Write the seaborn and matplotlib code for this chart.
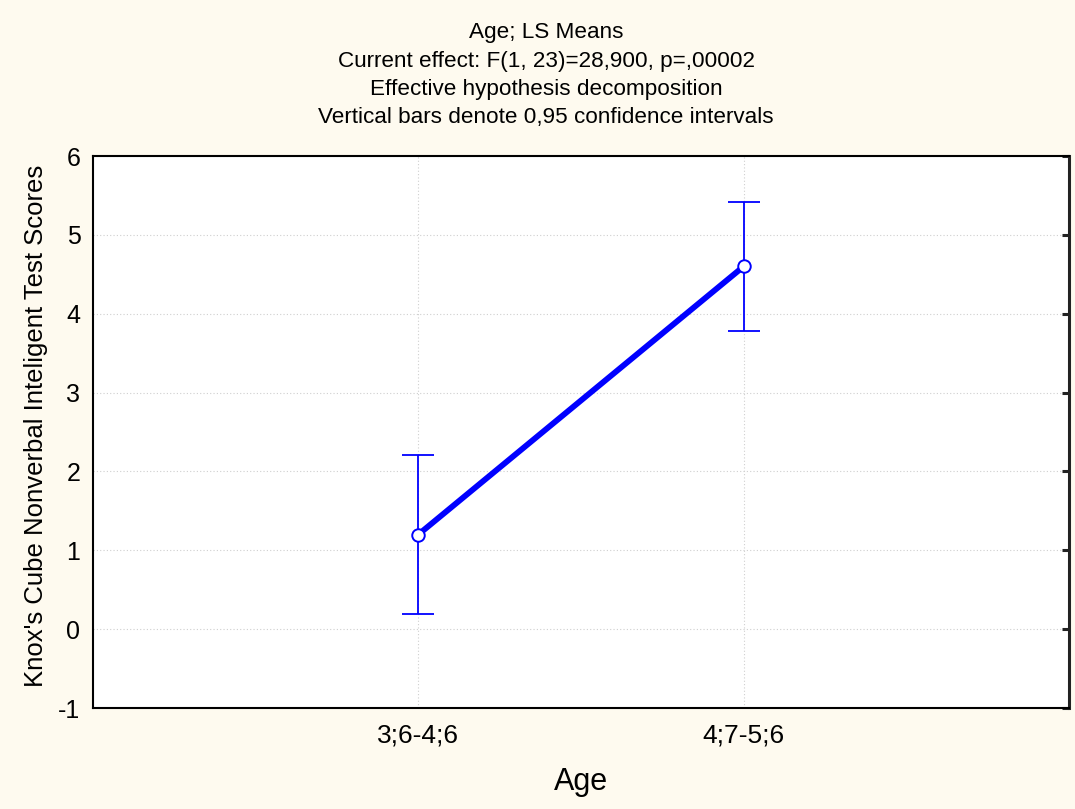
import matplotlib
matplotlib.use("Agg")
import matplotlib.pyplot as plt
import seaborn as sns
import pandas as pd

# LS means of the cube test score by age group, with 95% confidence limits
age_groups = ["3;6-4;6", "4;7-5;6"]
ls_means = [1.2, 4.6]
ci_lower = [0.19, 3.78]
ci_upper = [2.21, 5.42]
y_ticks = [-1, 0, 1, 2, 3, 4, 5, 6]

title_lines = [
    "Age; LS Means",
    "Current effect: F(1, 23)=28,900, p=,00002",
    "Effective hypothesis decomposition",
    "Vertical bars denote 0,95 confidence intervals",
]

sns.set_theme(style="white")
plt.rcParams["font.family"] = ["Liberation Sans", "DejaVu Sans"]

BG = "#FEFAEF"
BLUE = "#0000FF"

df = pd.DataFrame({"pos": range(len(age_groups)), "Age": age_groups, "mean": ls_means})

fig = plt.figure(figsize=(10.75, 8.09), dpi=100, facecolor=BG)
ax = fig.add_axes([93 / 1075, 1 - 708 / 809, 976 / 1075, 552 / 809])
ax.set_facecolor("white")

# confidence interval whiskers
yerr = [[m - lo for m, lo in zip(ls_means, ci_lower)],
        [hi - m for m, hi in zip(ls_means, ci_upper)]]
ax.errorbar(df["pos"], df["mean"], yerr=yerr, fmt="none", ecolor=BLUE,
            elinewidth=1.3, capsize=11.5, capthick=1.3, zorder=3)

# mean line with open markers
sns.lineplot(data=df, x="pos", y="mean", ax=ax, color=BLUE, linewidth=4.2,
             marker="o", markersize=9, markerfacecolor="white",
             markeredgecolor=BLUE, markeredgewidth=1.4, zorder=4)

ax.set_xlim(-1, 2)
ax.set_ylim(-1, 6)
ax.set_xticks(df["pos"])
ax.set_xticklabels(age_groups)
ax.set_yticks(y_ticks)
ax.set_yticklabels([str(t) for t in y_ticks])

ax.grid(True, linestyle=(0, (1, 2)), color="#cfcfcf", linewidth=0.8)
ax.set_axisbelow(True)

for side in ["left", "bottom", "top"]:
    ax.spines[side].set_color("black")
    ax.spines[side].set_linewidth(1.5)
ax.spines["right"].set_color("#222222")
ax.spines["right"].set_linewidth(2.2)

ax.tick_params(axis="x", direction="in", length=4, width=0.8, colors="black",
               labelsize=19, pad=11, labelcolor="black")
ax.tick_params(axis="y", left=False, right=True, direction="in", length=5,
               width=2.2, colors="#222222", labelsize=18, pad=9,
               labelcolor="black", labelleft=True, labelright=False)

ax.set_xlabel("Age", fontsize=22, color="black", labelpad=14)
ax.set_ylabel("Knox's Cube Nonverbal Inteligent Test Scores", fontsize=18.5,
              color="black", va="center")
ax.yaxis.set_label_coords(-0.0584, 0.511)

for i, line in enumerate(title_lines):
    fig.text(546 / 1075, 1 - (32.5 + i * 28.5) / 809, line, ha="center",
             va="center", fontsize=16.2, color="black")

fig.savefig("out.png", dpi=100, facecolor=BG)
